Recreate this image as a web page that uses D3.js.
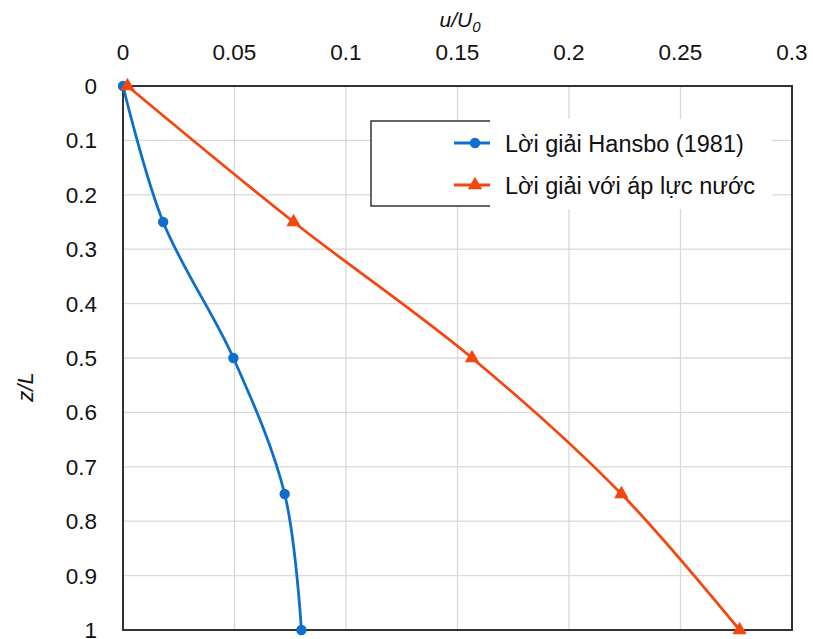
<!DOCTYPE html>
<html>
<head>
<meta charset="utf-8">
<script src="https://cdn.jsdelivr.net/npm/d3@7"></script>
<style>
  body { margin: 0; background: #fff; }
  text { font-family: Arial, "Liberation Sans", sans-serif; fill: #111; }
</style>
</head>
<body>
<svg id="chart" width="813" height="639"></svg>
<script>
// depth ratio z/L
var depth = [0, 0.25, 0.5, 0.75, 1];
// u/U0 values
var hansbo = [0, 0.018, 0.0495, 0.0725, 0.080];
var waterPressure = [0.002, 0.0765, 0.1565, 0.2235, 0.2765];
var xTicks = [0, 0.05, 0.1, 0.15, 0.2, 0.25, 0.3];
var yTicks = [0, 0.1, 0.2, 0.3, 0.4, 0.5, 0.6, 0.7, 0.8, 0.9, 1];
var seriesNames = ["Lời giải Hansbo (1981)", "Lời giải với áp lực nước"];
var seriesColors = ["#0c6fcd", "#f4470f"];

var svg = d3.select("#chart");
var pLeft = 123, pRight = 792, pTop = 86, pBottom = 630;

var x = d3.scaleLinear().domain([0, 0.3]).range([pLeft, pRight]);
var y = d3.scaleLinear().domain([0, 1]).range([pTop, pBottom]);

// grid
svg.append("g").selectAll("line")
	.data(xTicks.slice(1, -1))
	.enter().append("line")
	.attr("x1", function(d) { return x(d); })
	.attr("x2", function(d) { return x(d); })
	.attr("y1", pTop).attr("y2", pBottom)
	.style("stroke", "#d9d9d9").style("stroke-width", 1.3);
svg.append("g").selectAll("line")
	.data(yTicks.slice(1, -1))
	.enter().append("line")
	.attr("x1", pLeft).attr("x2", pRight)
	.attr("y1", function(d) { return y(d); })
	.attr("y2", function(d) { return y(d); })
	.style("stroke", "#d9d9d9").style("stroke-width", 1.3);

// frame
svg.append("rect")
	.attr("x", pLeft).attr("y", pTop)
	.attr("width", pRight - pLeft).attr("height", pBottom - pTop)
	.style("fill", "none").style("stroke", "#333").style("stroke-width", 2);

// tick labels
svg.append("g").selectAll("text")
	.data(xTicks)
	.enter().append("text")
	.attr("x", function(d) { return x(d); })
	.attr("y", 60)
	.attr("text-anchor", "middle")
	.style("font-size", "22.5px")
	.text(function(d) { return d; });
svg.append("g").selectAll("text")
	.data(yTicks)
	.enter().append("text")
	.attr("x", 97)
	.attr("y", function(d) { return y(d) + 8; })
	.attr("text-anchor", "end")
	.style("font-size", "22.5px")
	.text(function(d) { return d; });

// axis titles
var xt = svg.append("text")
	.attr("x", 460).attr("y", 27)
	.attr("text-anchor", "middle")
	.style("font-size", "21px").style("font-style", "italic");
xt.append("tspan").text("u/U");
xt.append("tspan").attr("dy", 5).style("font-size", "15px").text("0");

svg.append("text")
	.attr("transform", "translate(33,387) rotate(-90)")
	.attr("text-anchor", "middle")
	.style("font-size", "22px").style("font-style", "italic")
	.text("z/L");

var line = d3.line().curve(d3.curveCatmullRom.alpha(0.5));

function drawSeries(vals, color, marker) {
	var pts = vals.map(function(v, i) { return [x(v), y(depth[i])]; });
	svg.append("path")
		.attr("d", line(pts))
		.style("fill", "none").style("stroke", color).style("stroke-width", 2.8);
	var sym = d3.symbol().type(marker).size(marker === d3.symbolCircle ? 85 : 90);
	svg.append("g").selectAll("path")
		.data(pts)
		.enter().append("path")
		.attr("transform", function(d) { return "translate(" + d[0] + "," + d[1] + ")"; })
		.attr("d", sym)
		.style("fill", color);
}
drawSeries(hansbo, seriesColors[0], d3.symbolCircle);
drawSeries(waterPressure, seriesColors[1], d3.symbolTriangle);

// legend
svg.append("rect")
	.attr("x", 371).attr("y", 121)
	.attr("width", 400).attr("height", 85)
	.style("fill", "#fff").style("stroke", "#333").style("stroke-width", 1.5);
svg.append("rect")
	.attr("x", 490).attr("y", 119)
	.attr("width", 282).attr("height", 90)
	.style("fill", "#fff");

var legendY = [143, 185];
var markers = [d3.symbolCircle, d3.symbolTriangle];
seriesNames.forEach(function(name, i) {
	var g = svg.append("g");
	g.append("line")
		.attr("x1", 454).attr("x2", 490)
		.attr("y1", legendY[i]).attr("y2", legendY[i])
		.style("stroke", seriesColors[i]).style("stroke-width", 2.8);
	g.append("path")
		.attr("transform", "translate(475," + legendY[i] + ")")
		.attr("d", d3.symbol().type(markers[i]).size(i === 0 ? 85 : 90))
		.style("fill", seriesColors[i]);
	g.append("text")
		.attr("x", 505).attr("y", legendY[i] + 8.5)
		.style("font-size", "23.5px")
		.text(name);
});
</script>
</body>
</html>
